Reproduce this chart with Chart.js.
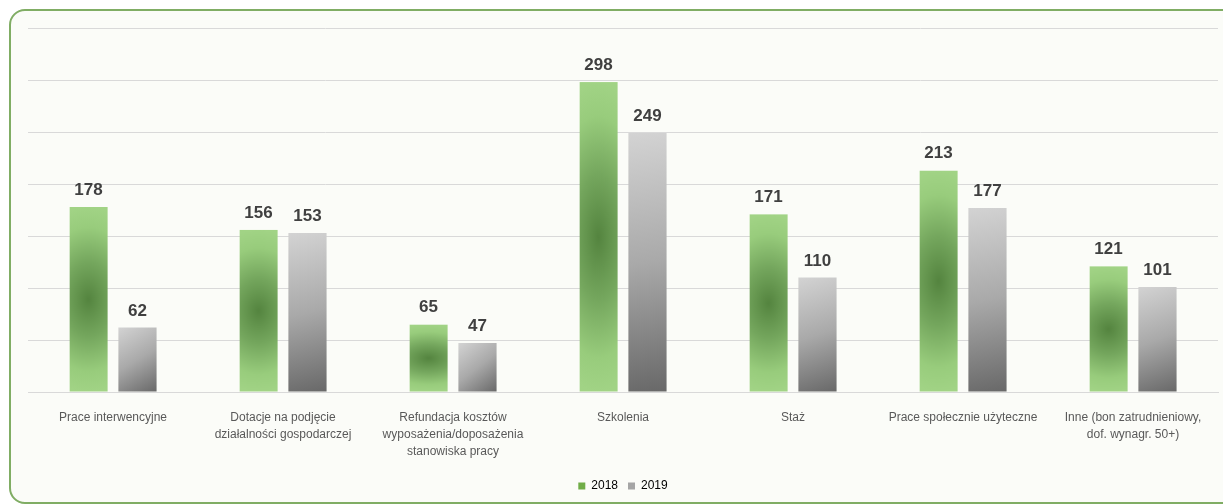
<!DOCTYPE html>
<html>
<head>
<meta charset="utf-8">
<script src="https://cdn.jsdelivr.net/npm/chart.js@4/dist/chart.umd.min.js"></script>
<style>
  html, body { margin: 0; padding: 0; background: #ffffff; width: 1223px; height: 504px; overflow: hidden; }
  #frame { position: absolute; left: 9px; top: 9px; width: 1240px; height: 491px;
           border: 2px solid #80ad64; border-radius: 16px; background: #fbfcf8; }
  #c { position: absolute; left: 0; top: 0; }
</style>
</head>
<body>
<div id="frame"></div>
<canvas id="c" width="1223" height="504"></canvas>
<script>
const categories = [
  "Prace interwencyjne",
  ["Dotacje na podjęcie", "działalności gospodarczej"],
  ["Refundacja kosztów", "wyposażenia/doposażenia", "stanowiska pracy"],
  "Szkolenia",
  "Staż",
  "Prace społecznie użyteczne",
  ["Inne (bon zatrudnieniowy,", "dof. wynagr. 50+)"]
];
const seriesNames = ["2018", "2019"];
const values2018 = [178, 156, 65, 298, 171, 213, 121];
const values2019 = [62, 153, 47, 249, 110, 177, 101];
const yTicks = [0, 50, 100, 150, 200, 250, 300, 350];

const CAT_PCT = 0.576;
const BAR_PCT = 0.78;

function barGeom(ctx) {
  const chart = ctx.chart;
  const xs = chart.scales.x, ys = chart.scales.y;
  if (!xs || !ys || !chart.chartArea) return null;
  const catW = xs.width / categories.length;
  const slot = catW * CAT_PCT / 2;
  const w = slot * BAR_PCT;
  const cx = xs.getPixelForValue(ctx.dataIndex) + (ctx.datasetIndex - 0.5) * slot;
  const top = ys.getPixelForValue(ctx.raw);
  const base = ys.getPixelForValue(0);
  return { left: cx - w / 2, top: top, w: w, h: base - top };
}

function greenFill(ctx) {
  const g = barGeom(ctx);
  if (!g || g.h <= 0) return '#7fb865';
  const W = Math.ceil(g.w) + 2, H = Math.ceil(g.h) + 2;
  const off = document.createElement('canvas');
  off.width = W; off.height = H;
  const o = off.getContext('2d');
  o.fillStyle = '#a1d385';
  o.fillRect(0, 0, W, H);
  o.save();
  const rx = g.w * 1.6, ry = g.h * 0.5;
  o.translate(g.w / 2, g.h * 0.5);
  o.scale(rx / ry, 1);
  const rg = o.createRadialGradient(0, 0, 0, 0, 0, ry);
  rg.addColorStop(0, '#54843f');
  rg.addColorStop(0.4, '#74a65d');
  rg.addColorStop(0.78, '#98cc7c');
  rg.addColorStop(1, '#a1d385');
  o.fillStyle = rg;
  o.fillRect(-W * 4, -H, W * 8, H * 2);
  o.restore();
  const p = ctx.chart.ctx.createPattern(off, 'no-repeat');
  p.setTransform(new DOMMatrix().translate(g.left, g.top));
  return p;
}

function grayFill(ctx) {
  const g = barGeom(ctx);
  if (!g || g.h <= 0) return '#a5a5a5';
  const lg = ctx.chart.ctx.createLinearGradient(g.left, g.top, g.left + g.w, g.top + g.h);
  lg.addColorStop(0, '#d3d3d3');
  lg.addColorStop(0.5, '#a9a9a9');
  lg.addColorStop(1, '#686868');
  return lg;
}

const valueLabels = {
  id: 'valueLabels',
  afterDatasetsDraw(chart) {
    const c = chart.ctx;
    c.save();
    c.font = 'bold 17px "Liberation Sans", Arial, sans-serif';
    c.fillStyle = '#404040';
    c.textAlign = 'center';
    c.textBaseline = 'alphabetic';
    chart.data.datasets.forEach((ds, di) => {
      const meta = chart.getDatasetMeta(di);
      meta.data.forEach((el, i) => {
        c.fillText(String(ds.data[i]), el.x, el.y - 12);
      });
    });
    c.restore();
  }
};

new Chart(document.getElementById('c'), {
  type: 'bar',
  data: {
    labels: categories,
    datasets: [
      { label: seriesNames[0], data: values2018, backgroundColor: greenFill,
        categoryPercentage: CAT_PCT, barPercentage: BAR_PCT, borderWidth: 0 },
      { label: seriesNames[1], data: values2019, backgroundColor: grayFill,
        categoryPercentage: CAT_PCT, barPercentage: BAR_PCT, borderWidth: 0 }
    ]
  },
  options: {
    responsive: false,
    animation: false,
    layout: { padding: { left: 28, right: 5, top: 28, bottom: 2 } },
    scales: {
      y: {
        min: 0, max: 350,
        afterBuildTicks: s => { s.ticks = yTicks.map(v => ({ value: v })); },
        afterFit: s => { s.width = 0; },
        ticks: { display: false },
        border: { display: false },
        grid: { color: '#d9d9d9', lineWidth: 1, drawTicks: false }
      },
      x: {
        afterFit: s => { s.height = 78; },
        grid: { display: false, drawTicks: false },
        border: { display: true, color: '#d9d9d9' },
        ticks: {
          autoSkip: false, maxRotation: 0, minRotation: 0, padding: 17,
          color: '#595959',
          font: { family: '"Liberation Sans", Arial, sans-serif', size: 12, lineHeight: 1.42 }
        }
      }
    },
    plugins: {
      tooltip: { enabled: false },
      legend: {
        position: 'bottom',
        labels: {
          boxWidth: 7, boxHeight: 7, padding: 10, color: '#595959',
          font: { family: '"Liberation Sans", Arial, sans-serif', size: 12 },
          generateLabels: () => [
            { text: seriesNames[0], fillStyle: '#70ad47', strokeStyle: '#70ad47', lineWidth: 0, datasetIndex: 0 },
            { text: seriesNames[1], fillStyle: '#a5a5a5', strokeStyle: '#a5a5a5', lineWidth: 0, datasetIndex: 1 }
          ]
        }
      }
    }
  },
  plugins: [valueLabels]
});
</script>
</body>
</html>
